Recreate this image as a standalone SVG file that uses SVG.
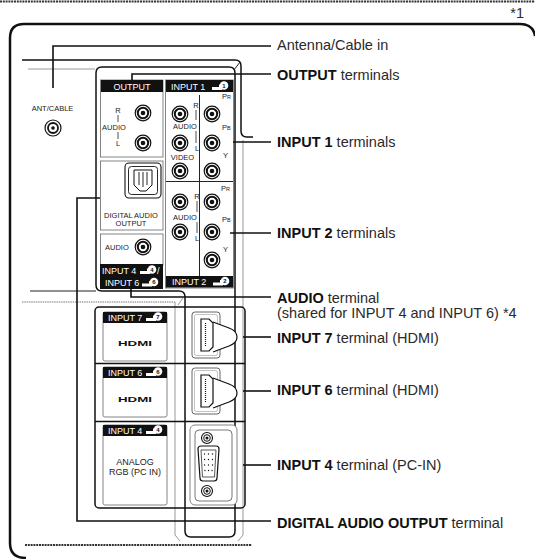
<svg xmlns="http://www.w3.org/2000/svg" width="535" height="559" viewBox="0 0 535 559">
<style>
text{font-family:"Liberation Sans",Arial,sans-serif}
.k{fill:none;stroke:#111;stroke-width:1.5}
.t{fill:none;stroke:#222;stroke-width:1}
.g{fill:none;stroke:#9a9a9a;stroke-width:1}
.gd{fill:none;stroke:#777;stroke-width:1.2;stroke-dasharray:1.5 0.8}
.dt{fill:none;stroke:#333;stroke-width:1.8;stroke-dasharray:2 0.8}
.cn{fill:none;stroke:#111;stroke-width:1.6}
.h{fill:#111}
.ht{fill:#fff;font-size:9px}
.s{fill:#222;font-size:7.5px}
.l{fill:#2a2a2a;font-size:14.5px}
.b{font-weight:bold;fill:#111}
.card{fill:none;stroke:#666;stroke-width:0.8}
.pn{fill:#111;font-size:6px;font-weight:bold;text-anchor:middle}
.c{text-anchor:middle}
.bar{stroke:#222;stroke-width:0.8}
</style>
<defs>
<g id="jack"><circle r="7.8" fill="#fff" stroke="#111" stroke-width="1.2"/><circle r="5.2" fill="none" stroke="#111" stroke-width="2"/><circle r="2.3" fill="#111"/></g>
<g id="plug"><rect x="-12" y="1.5" width="10" height="3" fill="#fff"/><rect x="-5" y="-1" width="3" height="5" fill="#fff"/><circle r="4.3" fill="#fff"/></g>
</defs>
<rect width="535" height="559" fill="#fff"/>
<line x1="0" y1="1.5" x2="535" y2="1.5" class="dt"/>
<text x="524" y="18" class="l" font-size="12" text-anchor="end">*1</text>

<g id="frame">
<path d="M26,558 Q10,558 10,543 V38 Q10,24 24,24 H520 Q533,24 535,36" fill="none" stroke="#111" stroke-width="2.5"/>
<path class="k" stroke-width="1.8" d="M22,60 H235 Q241,60 241,66 V131 Q241,137 247,137 H253"/>
<line x1="28" y1="69" x2="95" y2="69" class="g"/>
<line x1="30" y1="291" x2="96" y2="291" class="t"/>
<path class="gd" d="M22,302 H175"/>
<path class="g" d="M175,302 V535 L180,541"/>
<path class="g" d="M178,305 L183,298"/>
<path class="g" d="M243,140 V535 L238,541"/>
<line x1="25" y1="545" x2="252" y2="545" class="dt"/>
<path class="k" d="M102,67 H229 Q235,67 235,73 V531 Q235,537 229,537 H191 Q185,537 185,531 V297 Q185,291 179,291 H102 Q96,291 96,285 V73 Q96,67 102,67 Z"/>
<line x1="234" y1="70" x2="240" y2="62" class="t"/>
</g>

<g id="ant-cable">
<text x="52.5" y="111" class="s c" font-size="8.5">ANT/CABLE</text>
<circle cx="53" cy="128" r="8" fill="#fff" stroke="#111" stroke-width="1.2"/>
<circle cx="53" cy="128" r="5" fill="none" stroke="#111" stroke-width="1.8"/>
<circle cx="53" cy="128" r="1.8" fill="#111"/>
</g>

<g id="output">
<rect x="100.5" y="80" width="62.5" height="77" class="card"/>
<rect x="101" y="80" width="62" height="12" class="h"/>
<text x="132" y="89.5" class="ht c">OUTPUT</text>
<text x="118" y="113" class="s c">R</text>
<line x1="118" y1="115" x2="118" y2="122" class="bar"/>
<text x="114" y="130" class="s c">AUDIO</text>
<line x1="118" y1="132" x2="118" y2="139" class="bar"/>
<text x="118" y="146" class="s c">L</text>
<use href="#jack" x="143" y="113"/>
<use href="#jack" x="143" y="143"/>
</g>

<g id="digital-audio-output">
<rect x="100.5" y="161" width="62.5" height="69" class="card"/>
<rect x="125" y="163" width="36" height="35" rx="4" fill="#fff" stroke="#111" stroke-width="1.1"/>
<rect x="128.5" y="166.5" width="29" height="28" rx="3" fill="none" stroke="#111" stroke-width="0.9"/>
<path d="M134,170 H152 V185 L146,191 H140 L134,185 Z" fill="#fff" stroke="#111" stroke-width="1"/>
<path d="M139,172 V185 M143,172 V187 M147,172 V185" stroke="#111" stroke-width="0.9"/>
<text x="131" y="217.5" class="s c">DIGITAL AUDIO</text>
<text x="131" y="225.5" class="s c">OUTPUT</text>
</g>

<g id="audio">
<rect x="100.5" y="234" width="62.5" height="31" class="card"/>
<text x="105" y="250" class="s" font-size="8">AUDIO</text>
<use href="#jack" x="143" y="247"/>
<rect x="100" y="264" width="63" height="25" class="h"/>
<text x="102" y="273.5" class="ht">INPUT 4</text>
<use href="#plug" x="152" y="269.5"/>
<text x="152" y="271.7" class="pn">4</text>
<text x="157" y="273.5" class="ht">/</text>
<text x="105" y="286" class="ht">INPUT 6</text>
<use href="#plug" x="154" y="282"/>
<text x="154" y="284.2" class="pn">6</text>
</g>

<g id="input1">
<rect x="165.5" y="80" width="68" height="208" class="card"/>
<rect x="166" y="80" width="67" height="12" class="h"/>
<text x="171" y="89.5" class="ht">INPUT 1</text>
<use href="#plug" x="224" y="85.5"/>
<text x="224" y="87.7" class="pn">1</text>
<line x1="199.5" y1="95" x2="199.5" y2="276" class="t"/>
<line x1="166" y1="181.5" x2="233" y2="181.5" class="t"/>
<text x="196" y="108" class="s c">R</text>
<line x1="196" y1="110" x2="196" y2="120" class="bar"/>
<text x="185" y="129" class="s c">AUDIO</text>
<line x1="196" y1="131" x2="196" y2="143" class="bar"/>
<text x="197" y="151" class="s c">L</text>
<text x="182.5" y="160" class="s c">VIDEO</text>
<text x="222" y="99" class="s">P<tspan font-size="5.5">R</tspan></text>
<text x="222" y="130" class="s">P<tspan font-size="5.5">B</tspan></text>
<text x="223" y="158" class="s">Y</text>
<use href="#jack" x="180" y="114"/>
<use href="#jack" x="180" y="143"/>
<use href="#jack" x="180" y="171"/>
<use href="#jack" x="212" y="114"/>
<use href="#jack" x="212" y="143"/>
<use href="#jack" x="212" y="171"/>
</g>

<g id="input2">
<text x="197" y="199" class="s c">R</text>
<line x1="197" y1="201" x2="197" y2="212" class="bar"/>
<text x="185" y="220" class="s c">AUDIO</text>
<line x1="197" y1="222" x2="197" y2="233" class="bar"/>
<text x="197" y="241" class="s c">L</text>
<text x="221" y="191" class="s">P<tspan font-size="5.5">R</tspan></text>
<text x="222" y="222" class="s">P<tspan font-size="5.5">B</tspan></text>
<text x="223" y="252" class="s">Y</text>
<use href="#jack" x="180" y="202"/>
<use href="#jack" x="180" y="232"/>
<use href="#jack" x="212" y="202"/>
<use href="#jack" x="212" y="232"/>
<use href="#jack" x="212" y="260"/>
<rect x="166" y="276" width="67" height="11.5" class="h"/>
<text x="172" y="285" class="ht">INPUT 2</text>
<use href="#plug" x="225" y="281"/>
<text x="225" y="283.2" class="pn">2</text>
</g>

<g id="lower-panel">
<rect x="95" y="307" width="150" height="201" rx="4" class="k"/>
<line x1="95" y1="363.5" x2="245" y2="363.5" class="k"/>
<line x1="95" y1="421.5" x2="245" y2="421.5" class="k"/>
</g>

<g id="input7">
<rect x="103" y="312" width="64" height="49" rx="2" fill="#fff" class="card"/>
<rect x="103" y="312" width="64" height="11" class="h"/>
<text x="108" y="321" class="ht">INPUT 7</text>
<use href="#plug" x="158" y="316.5"/>
<text x="158" y="318.7" class="pn">7</text>
<text x="135" y="346" class="c" font-size="8" font-weight="bold" fill="#111" textLength="34" lengthAdjust="spacingAndGlyphs">HDMI</text>
<rect x="192" y="312" width="28" height="46" rx="3" fill="none" stroke="#555" stroke-width="0.9"/>
<rect x="194.5" y="314.5" width="23" height="41" rx="2" fill="none" stroke="#999" stroke-width="0.6"/>
<path d="M213,322 L229,328 Q237,331 237,337 Q237,343 229,346 L213,352" fill="#fff" stroke="#111" stroke-width="1.2"/>
<path d="M201,319 H209 L213,323 V347 L209,351 H201 Z" fill="#fff" stroke="#111" stroke-width="1.2"/>
<line x1="205.5" y1="323" x2="205.5" y2="347" stroke="#111" stroke-width="1.2" stroke-dasharray="1 1"/>
</g>

<g id="input6">
<rect x="103" y="367" width="64" height="50" rx="2" fill="#fff" class="card"/>
<rect x="103" y="367" width="64" height="11" class="h"/>
<text x="108" y="376" class="ht">INPUT 6</text>
<use href="#plug" x="158" y="371.5"/>
<text x="158" y="373.7" class="pn">6</text>
<text x="135" y="402" class="c" font-size="8" font-weight="bold" fill="#111" textLength="34" lengthAdjust="spacingAndGlyphs">HDMI</text>
<rect x="192" y="368" width="28" height="46" rx="3" fill="none" stroke="#555" stroke-width="0.9"/>
<rect x="194.5" y="370.5" width="23" height="41" rx="2" fill="none" stroke="#999" stroke-width="0.6"/>
<path d="M213,378 L229,384 Q237,387 237,393 Q237,399 229,402 L213,408" fill="#fff" stroke="#111" stroke-width="1.2"/>
<path d="M201,375 H209 L213,379 V403 L209,407 H201 Z" fill="#fff" stroke="#111" stroke-width="1.2"/>
<line x1="205.5" y1="379" x2="205.5" y2="403" stroke="#111" stroke-width="1.2" stroke-dasharray="1 1"/>
</g>

<g id="input4">
<rect x="103" y="425" width="64" height="80" rx="2" fill="#fff" class="card"/>
<rect x="103" y="425" width="64" height="11" class="h"/>
<text x="108" y="434" class="ht">INPUT 4</text>
<use href="#plug" x="158" y="429.5"/>
<text x="158" y="431.7" class="pn">4</text>
<text x="135" y="465" class="c" font-size="9" fill="#222">ANALOG</text>
<text x="135" y="475" class="c" font-size="9" fill="#222">RGB (PC IN)</text>
<rect x="190" y="425" width="47" height="80" rx="5" fill="#fff" stroke="#777" stroke-width="0.9"/>
<rect x="195" y="430" width="37" height="71" rx="4" fill="none" stroke="#555" stroke-width="0.8"/>
<circle cx="207" cy="438" r="5.5" fill="#fff" stroke="#111" stroke-width="1.1"/>
<circle cx="207" cy="438" r="3.3" fill="none" stroke="#111" stroke-width="1"/>
<circle cx="207" cy="438" r="1.5" fill="#111"/>
<circle cx="207" cy="491" r="5.5" fill="#fff" stroke="#111" stroke-width="1.1"/>
<circle cx="207" cy="491" r="3.3" fill="none" stroke="#111" stroke-width="1"/>
<circle cx="207" cy="491" r="1.5" fill="#111"/>
<path d="M198,449 Q198,446 201,446 H216 Q219,446 219,449 L217,478 Q217,481 214,481 H203 Q200,481 200,478 Z" fill="#fff" stroke="#111" stroke-width="1.2"/>
<path d="M201,450 H216 L214.5,477 H202.5 Z" fill="none" stroke="#111" stroke-width="0.7"/>
<g fill="#111">
<circle cx="204.5" cy="454" r="0.7"/><circle cx="208.5" cy="454" r="0.7"/><circle cx="212.5" cy="454" r="0.7"/>
<circle cx="204.5" cy="459.5" r="0.7"/><circle cx="208.5" cy="459.5" r="0.7"/><circle cx="212.5" cy="459.5" r="0.7"/>
<circle cx="204.5" cy="465" r="0.7"/><circle cx="208.5" cy="465" r="0.7"/><circle cx="212.5" cy="465" r="0.7"/>
<circle cx="205" cy="470.5" r="0.7"/><circle cx="208.5" cy="470.5" r="0.7"/><circle cx="212" cy="470.5" r="0.7"/>
</g>
</g>

<g id="connectors" class="cn">
<path d="M53,88 V46 H271"/>
<path d="M132,80 V74 H271"/>
<path d="M233,142 H271"/>
<path d="M230,233 H271"/>
<path d="M131,288 V297 H271"/>
<path d="M243,337 H271"/>
<path d="M243,391 H271"/>
<path d="M243,465 H271"/>
<path d="M100,198 H77 V521 H271"/>
</g>

<g id="labels" class="l">
<text x="277" y="50">Antenna/Cable in</text>
<text x="277" y="80"><tspan class="b">OUTPUT</tspan> terminals</text>
<text x="277" y="147"><tspan class="b">INPUT 1</tspan> terminals</text>
<text x="277" y="238"><tspan class="b">INPUT 2</tspan> terminals</text>
<text x="277" y="303"><tspan class="b">AUDIO</tspan> terminal</text>
<text x="277" y="318">(shared for INPUT 4 and INPUT 6) *4</text>
<text x="277" y="343"><tspan class="b">INPUT 7</tspan> terminal (HDMI)</text>
<text x="277" y="395"><tspan class="b">INPUT 6</tspan> terminal (HDMI)</text>
<text x="277" y="470"><tspan class="b">INPUT 4</tspan> terminal (PC-IN)</text>
<text x="277" y="528"><tspan class="b">DIGITAL AUDIO OUTPUT</tspan> terminal</text>
</g>
</svg>
